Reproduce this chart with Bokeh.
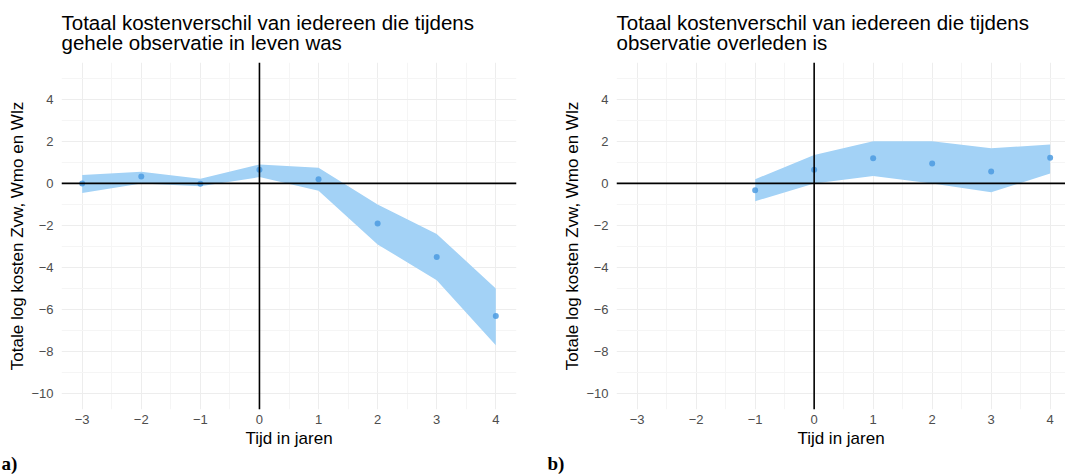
from bokeh.plotting import figure
from bokeh.layouts import row
from bokeh.models import Span, FixedTicker, Range1d, Title
from bokeh.embed import file_html
from bokeh.resources import INLINE

# Years relative to the event
years_alive = [-3, -2, -1, 0, 1, 2, 3, 4]
# Everyone alive throughout the observation: estimate and confidence band
alive_est = [0.0, 0.33, -0.02, 0.65, 0.2, -1.9, -3.5, -6.3]
alive_lo = [-0.45, 0.0, -0.14, 0.3, -0.35, -2.9, -4.6, -7.7]
alive_hi = [0.4, 0.55, 0.22, 0.9, 0.75, -1.0, -2.4, -5.0]

# Everyone who died during the observation
years_died = [-1, 0, 1, 2, 3, 4]
died_est = [-0.33, 0.65, 1.2, 0.95, 0.57, 1.22]
died_lo = [-0.85, 0.0, 0.35, 0.0, -0.42, 0.47]
died_hi = [0.2, 1.35, 2.0, 2.0, 1.67, 1.85]

x_ticks = [-3, -2, -1, 0, 1, 2, 3, 4]
y_ticks = [-10, -8, -6, -4, -2, 0, 2, 4]
x_minor = [-2.5, -1.5, -0.5, 0.5, 1.5, 2.5, 3.5]
y_minor = [-9, -7, -5, -3, -1, 1, 3, 5]

titles = [
    "Totaal kostenverschil van iedereen die tijdens\ngehele observatie in leven was",
    "Totaal kostenverschil van iedereen die tijdens\nobservatie overleden is",
]

SANS = "Liberation Sans"
BAND = "#A3D2F6"
DOT = "#4C9BE0"


def panel(title, xs, est, lo, hi, width, x_end, border_left, border_right, tag, tag_offset):
    p = figure(
        width=width, height=474,
        x_range=Range1d(-3.35, x_end), y_range=Range1d(-10.75, 5.75),
        output_backend="svg", toolbar_location=None,
        min_border_left=border_left, min_border_right=border_right,
        min_border_top=61, min_border_bottom=65,
        outline_line_color=None, background_fill_color="white",
        border_fill_color="white",
    )
    p.title.text = title
    p.title.text_font = SANS
    p.title.text_font_size = "20.5px"
    p.title.text_font_style = "normal"
    p.title.text_color = "black"
    p.title.align = "left"
    p.title.text_line_height = 0.9
    p.title.standoff = 16

    p.xaxis.ticker = FixedTicker(ticks=x_ticks, minor_ticks=x_minor)
    p.yaxis.ticker = FixedTicker(ticks=y_ticks, minor_ticks=y_minor)
    for ax in (p.xaxis[0], p.yaxis[0]):
        ax.axis_line_color = None
        ax.major_tick_line_color = None
        ax.minor_tick_line_color = None
        ax.major_tick_out = 0
        ax.major_tick_in = 0
        ax.minor_tick_out = 0
        ax.minor_tick_in = 0
        ax.major_label_text_font = SANS
        ax.major_label_text_font_size = "13px"
        ax.major_label_text_color = "#4D4D4D"
        ax.axis_label_text_font = SANS
        ax.axis_label_text_font_size = "17px"
        ax.axis_label_text_font_style = "normal"
        ax.axis_label_text_color = "black"
    p.xaxis.major_label_standoff = 5
    p.xaxis.axis_label_standoff = 2
    p.yaxis.major_label_standoff = 8
    p.yaxis.axis_label_standoff = 1
    p.xaxis.axis_label = "Tijd in jaren"
    p.yaxis.axis_label = "Totale log kosten Zvw, Wmo en Wlz"

    for g in (p.xgrid[0], p.ygrid[0]):
        g.grid_line_color = "#EDEDED"
        g.grid_line_width = 1
        g.minor_grid_line_color = "#F5F5F5"
        g.minor_grid_line_width = 1

    p.varea(x=xs, y1=lo, y2=hi, fill_color=BAND, fill_alpha=1.0)
    p.scatter(x=xs, y=est, size=6, fill_color=DOT, line_color=None, fill_alpha=0.85)

    p.add_layout(Span(location=0, dimension="width", line_color="black", line_width=1.6))
    p.add_layout(Span(location=0, dimension="height", line_color="black", line_width=1.6))

    # panel tag under the x axis
    p.add_layout(Title(
        text=tag, align="left", offset=tag_offset, standoff=0,
        text_font="Liberation Serif", text_font_style="bold", text_font_size="19px",
        text_color="black", text_line_height=0.9,
    ), "below")
    return p


left = panel(titles[0], years_alive, alive_est, alive_lo, alive_hi,
             545, 4.35, 61, 29, "a)", -60)
right = panel(titles[1], years_died, died_est, died_lo, died_hi,
              520, 4.26, 71, 0, "b)", -69)

layout = row(left, right)
open("out.html", "w").write(file_html(layout, INLINE))
